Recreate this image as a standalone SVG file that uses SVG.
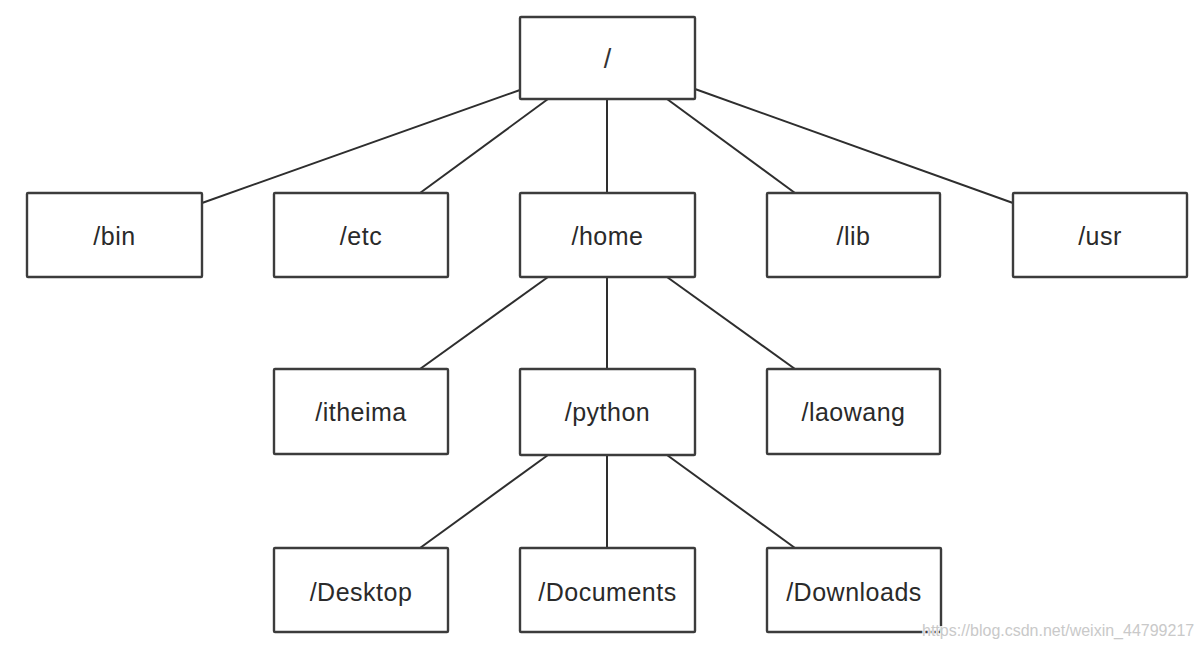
<svg xmlns="http://www.w3.org/2000/svg" width="1204" height="649" viewBox="0 0 1204 649">
  <style>
    .box { fill: #ffffff; stroke: #3c3c3c; stroke-width: 2.4; }
    .edge { stroke: #2e2e2e; stroke-width: 2; fill: none; }
    .label { font-family: "Liberation Sans", Arial, sans-serif; font-size: 25px; letter-spacing: 0.5px; fill: #2a2a2a; text-anchor: middle; }
    .slash { font-family: "Liberation Sans", Arial, sans-serif; font-size: 27px; fill: #333333; text-anchor: middle; }
    .mark { font-family: "Liberation Sans", Arial, sans-serif; font-size: 16px; fill: #c9c9c9; stroke: #ffffff; stroke-width: 1.5; paint-order: stroke; }
  </style>
  <rect width="1204" height="649" fill="#ffffff"/>

  <!-- connectors -->
  <g id="connectors">
    <line class="edge" x1="520" y1="90" x2="202" y2="203"/>
    <line class="edge" x1="548" y1="99" x2="420" y2="193"/>
    <line class="edge" x1="607" y1="99" x2="607" y2="193"/>
    <line class="edge" x1="667" y1="99" x2="795" y2="193"/>
    <line class="edge" x1="695" y1="89" x2="1013" y2="203"/>
    <line class="edge" x1="548" y1="277" x2="420" y2="369"/>
    <line class="edge" x1="607" y1="277" x2="607" y2="369"/>
    <line class="edge" x1="667" y1="277" x2="795" y2="369"/>
    <line class="edge" x1="548" y1="455" x2="420" y2="548"/>
    <line class="edge" x1="607" y1="455" x2="607" y2="548"/>
    <line class="edge" x1="667" y1="455" x2="795" y2="548"/>
  </g>

  <!-- root -->
  <g id="root">
    <rect class="box" x="520" y="17" width="175" height="82" rx="1"/>
    <text class="slash" x="607.5" y="68">/</text>
  </g>

  <!-- first level -->
  <g id="bin">
    <rect class="box" x="27" y="193" width="175" height="84" rx="1"/>
    <text class="label" x="114.5" y="245">/bin</text>
  </g>
  <g id="etc">
    <rect class="box" x="274" y="193" width="174" height="84" rx="1"/>
    <text class="label" x="361" y="245">/etc</text>
  </g>
  <g id="home">
    <rect class="box" x="520" y="193" width="175" height="84" rx="1"/>
    <text class="label" x="607.5" y="245">/home</text>
  </g>
  <g id="lib">
    <rect class="box" x="767" y="193" width="173" height="84" rx="1"/>
    <text class="label" x="853.5" y="245">/lib</text>
  </g>
  <g id="usr">
    <rect class="box" x="1013" y="193" width="174" height="84" rx="1"/>
    <text class="label" x="1100" y="245">/usr</text>
  </g>

  <!-- under /home -->
  <g id="itheima">
    <rect class="box" x="274" y="369" width="174" height="85" rx="1"/>
    <text class="label" x="361" y="421">/itheima</text>
  </g>
  <g id="python">
    <rect class="box" x="520" y="369" width="175" height="86" rx="1"/>
    <text class="label" x="607.5" y="421">/python</text>
  </g>
  <g id="laowang">
    <rect class="box" x="767" y="369" width="173" height="85" rx="1"/>
    <text class="label" x="853.5" y="421">/laowang</text>
  </g>

  <!-- under /python -->
  <g id="desktop">
    <rect class="box" x="274" y="548" width="174" height="84" rx="1"/>
    <text class="label" x="361" y="601">/Desktop</text>
  </g>
  <g id="documents">
    <rect class="box" x="520" y="548" width="175" height="84" rx="1"/>
    <text class="label" x="607.5" y="601">/Documents</text>
  </g>
  <g id="downloads">
    <rect class="box" x="767" y="548" width="174" height="84" rx="1"/>
    <text class="label" x="854" y="601">/Downloads</text>
  </g>

  <text class="mark" x="922" y="636">https://blog.csdn.net/weixin_44799217</text>
</svg>
